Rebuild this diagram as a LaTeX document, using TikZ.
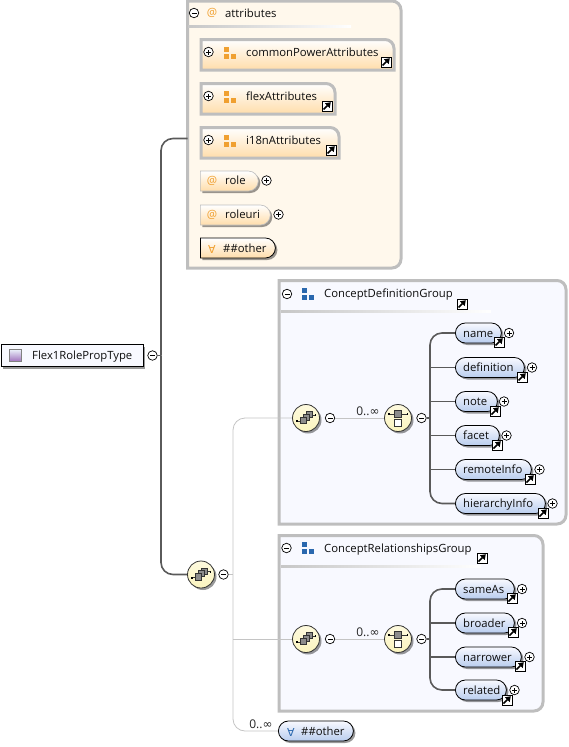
\documentclass[tikz,border=0pt]{standalone}
\usepackage{fontspec}
\setmainfont{Open Sans}
\newfontfamily\symfont{DejaVu Sans}
\usepackage{tikz}
\usetikzlibrary{arrows.meta,positioning,calc,shadows,shapes.misc}
\definecolor{XsdBorder}{HTML}{BEBEBE}
\definecolor{XsdTrunk}{HTML}{5A5A5A}
\definecolor{XsdThin}{HTML}{C4C4C4}
\definecolor{XsdOrange}{HTML}{F0A030}
\definecolor{XsdBlue}{HTML}{2A68AE}
\definecolor{XsdCream}{HTML}{FFF8EC}
\definecolor{XsdPale}{HTML}{F8F9FF}
\definecolor{XsdLightOrange}{HTML}{FFDDAA}
\definecolor{XsdLightBlue}{HTML}{B9CDEE}
\definecolor{XsdYellow}{HTML}{FBF4BE}
\tikzset{
  softshadow/.style={drop shadow={shadow xshift=2pt, shadow yshift=-2pt, opacity=0.4, fill=black}},
  lbl/.style={anchor=west, inner sep=0pt, text height=9pt, text depth=0pt, font=\fontsize{11.3}{13}\selectfont, text=black!95},
  sym/.style={inner sep=0pt, font=\symfont\fontsize{11}{12}\selectfont},
  atsign/.style={inner sep=0pt, text=XsdOrange, font=\fontsize{11.5}{12}\selectfont},
  occurs/.style={inner sep=0pt, font=\fontsize{12}{13}\selectfont, text=black!85},
  minusnode/.style={circle, draw=black, line width=0.7pt, fill=white, minimum size=9.5pt, inner sep=0pt,
    path picture={\draw[line width=0.6pt] ([xshift=-2.5pt]path picture bounding box.center) -- ([xshift=2.5pt]path picture bounding box.center);}},
  plusnode/.style={circle, draw=black, line width=0.7pt, fill=white, minimum size=9.5pt, inner sep=0pt,
    path picture={\draw[line width=0.6pt] ([xshift=-2.5pt]path picture bounding box.center) -- ([xshift=2.5pt]path picture bounding box.center);
      \draw[line width=0.6pt] ([yshift=-2.5pt]path picture bounding box.center) -- ([yshift=2.5pt]path picture bounding box.center);}},
  jumpnode/.style={rectangle, draw=black, line width=1pt, fill=white, minimum size=10pt, inner sep=0pt,
    path picture={\begin{scope}[shift={(path picture bounding box.center)}]
      \draw[line width=1.6pt, -{Triangle[length=5pt,width=6.5pt]}] (-3.5,3.5) -- (3.8,-3.8);
    \end{scope}}},
  groupnode/.style={minimum size=13pt, inner sep=0pt,
    path picture={\begin{scope}[shift={(path picture bounding box.center)}]
      \fill[#1] (-6,-6.5) rectangle (-1,-1.5);
      \fill[#1] (-6,0.5) rectangle (-1,5.5);
      \fill[#1] (1,0.5) rectangle (6,5.5);
    \end{scope}}},
  typemark/.style={rectangle, draw=black!50, top color=XsdLightBlue!30!white, bottom color=violet!45!XsdLightBlue, minimum size=12pt, inner sep=0pt},
  rootbox/.style={rectangle, draw=black, line width=0.9pt, fill=XsdPale, minimum width=142pt, minimum height=22pt, inner sep=0pt, softshadow},
  attrpill/.style={rounded rectangle, rounded rectangle west arc=none, draw=XsdBorder, line width=0.6pt, top color=white, bottom color=XsdLightOrange, minimum height=20pt, inner sep=0pt, anchor=west, softshadow},
  otherpill/.style={rounded rectangle, rounded rectangle west arc=none, draw=black, line width=0.8pt, top color=white, bottom color=XsdLightOrange, minimum height=20pt, inner sep=0pt, anchor=west, softshadow},
  elempill/.style={rounded rectangle, draw=black, line width=0.8pt, top color=XsdPale, bottom color=XsdLightBlue, minimum height=20pt, inner sep=0pt, anchor=west, softshadow},
  choicenode/.style={circle, draw=black!80, line width=0.8pt, top color=XsdYellow!50!white, bottom color=XsdYellow, minimum size=27pt, inner sep=0pt, softshadow,
    path picture={\begin{scope}[shift={(path picture bounding box.center)}]
      \draw[line width=0.8pt] (-9,3) -- (-5,3);
      \draw[line width=0.8pt] (5,-3) -- (9,-3);
      \fill (-10,2) rectangle (-8.5,4);
      \fill (8.5,-4) rectangle (10,-2);
      \draw[fill=black!45, line width=0.5pt] (0.5,-6.5) rectangle (6.5,-0.5);
      \draw[fill=black!45, line width=0.5pt] (-2.5,-4) rectangle (3.5,2);
      \draw[fill=black!45, line width=0.5pt] (-5.5,-1) rectangle (0.5,5.5);
    \end{scope}}},
  seqnode/.style={circle, draw=black!80, line width=0.8pt, top color=XsdYellow!50!white, bottom color=XsdYellow, minimum size=27pt, inner sep=0pt, softshadow,
    path picture={\begin{scope}[shift={(path picture bounding box.center)}]
      \draw[line width=0.8pt] (-9,-4) -- (9,-4);
      \fill (-10,-5) rectangle (-8.5,-3);
      \fill (8.5,-5) rectangle (10,-3);
      \draw[fill=black!45, line width=0.5pt] (-3.5,-7.5) rectangle (3.5,-0.5);
      \draw[fill=white, line width=0.8pt] (-3.5,1.5) rectangle (3.5,8);
    \end{scope}}},
  sepbar/.style={rectangle, left color=black!22, right color=white, minimum height=2pt, inner sep=0pt, anchor=west},
  trunk/.style={draw=XsdTrunk, line width=1.6pt},
  thin/.style={draw=XsdThin, line width=0.8pt},
  groupframe/.style={draw=XsdBorder, line width=3pt},
  refframe/.style={draw=XsdBorder, line width=3pt, top color=white, bottom color=XsdLightOrange}
}
% frame with round corners on the right
\newcommand{\sideframe}[6]{\filldraw[#2] (#3,#4) -- (#3+12,#4) -- (#5-9,#4) to[out=0,in=90] (#5,#4+9) -- (#5,#6-9) to[out=-90,in=0] (#5-9,#6) -- (#3,#6) -- cycle; \coordinate (#1) at (#3,#4/2+#6/2);}
% frame with the top right corner round only
\newcommand{\refframe}[6]{\shadedraw[#2] (#3,#4) -- (#5-9,#4) to[out=0,in=90] (#5,#4+9) -- (#5,#6) -- (#3,#6) -- cycle; \coordinate (#1) at (#3,#4/2+#6/2);}

\begin{document}
\begin{tikzpicture}[x=1pt,y=-1pt]
\useasboundingbox (0,0) rectangle (568,747);

% attributes
\sideframe{attrs}{groupframe, fill=XsdCream}{187.5}{1}{401}{268}
\coordinate (attrsin) at (187.5,138.5);
\node[minusnode] (attrsminus) at (194,13) {};
\node[atsign] (attrsat) at (212,13) {@};
\node[lbl] (attrstxt) at (225,13) {attributes};
\node[sepbar, minimum width=163pt] (attrssep) at (188,26.5) {};
\refframe{power}{refframe}{201}{39.5}{394}{70}
\node[plusnode] (powerplus) at (208.5,52) {};
\node[groupnode=XsdOrange] (powergrp) at (230,53) {};
\node[lbl] (powertxt) at (246,52) {commonPowerAttributes};
\node[jumpnode] (powerjump) at (386,62) {};
\refframe{flex}{refframe}{201}{83.5}{335}{114}
\node[plusnode] (flexplus) at (208.5,96) {};
\node[groupnode=XsdOrange] (flexgrp) at (230,97) {};
\node[lbl] (flextxt) at (246,96) {flexAttributes};
\node[jumpnode] (flexjump) at (327,106) {};
\refframe{intl}{refframe}{201}{127.5}{339}{158}
\node[plusnode] (intlplus) at (208.5,140) {};
\node[groupnode=XsdOrange] (intlgrp) at (230,141) {};
\node[lbl] (intltxt) at (246,140) {i18nAttributes};
\node[jumpnode] (intljump) at (331,150) {};
\node[attrpill, minimum width=58pt] (role) at (200,181) {};
\node[atsign] (roleat) at (212,181) {@};
\node[lbl] (roletxt) at (225,180) {role};
\node[plusnode] (roleplus) at (266.5,180.5) {};
\node[attrpill, minimum width=70pt] (roleuri) at (200,215) {};
\node[atsign] (roleuriat) at (212,215) {@};
\node[lbl] (roleuritxt) at (225,214) {roleuri};
\node[plusnode] (roleuriplus) at (278.5,214.5) {};
\node[otherpill, minimum width=75pt] (attrother) at (200,248) {};
\node[sym, text=XsdOrange] (attrotherall) at (212,249) {∀};
\node[lbl] (attrothertxt) at (223,248) {\#\#other};

% root
\node[rootbox, anchor=west] (root) at (1,355.5) {};
\node[typemark] (rootmark) at (15.5,355.5) {};
\node[lbl] (roottxt) at (32,355) {Flex1RolePropType};
\node[minusnode] (rootminus) at (152.5,355.5) {};
\node[choicenode] (mainchoice) at (201,574.5) {};
\node[minusnode] (mainminus) at (223.5,574.5) {};
\coordinate (rootfork) at (161,355.5);
\draw[trunk] (rootminus)--(rootfork);
\draw[trunk, rounded corners=12pt] (rootfork) |- (attrsin);
\draw[trunk, rounded corners=12pt] (rootfork) |- (mainchoice);

% thin lines behind the two groups
\coordinate (mainfork) at (233,574.5);
\node[occurs] (mainocc) at (261,724) {0..{\symfont ∞}};
\node[rounded rectangle, draw=black, line width=0.8pt, top color=XsdPale, bottom color=XsdLightBlue, minimum height=20pt, minimum width=75pt, inner sep=0pt, anchor=west, softshadow] (mainother) at (278,731) {};
\node[sym, text=XsdBlue] (mainotherall) at (291,732) {∀};
\node[lbl] (mainothertxt) at (301,731) {\#\#other};
\draw[thin] (mainminus)--(mainfork);
\draw[thin, rounded corners=12pt] (mainfork) |- (mainother);

% ConceptDefinitionGroup
\sideframe{defgroup}{groupframe, fill=XsdPale}{279}{280.5}{566}{524}
\node[minusnode] (defminus) at (287,294) {};
\node[groupnode=XsdBlue] (defgrp) at (308,294) {};
\node[lbl] (deftxt) at (324,293) {ConceptDefinitionGroup};
\node[jumpnode] (defjump) at (462,304) {};
\node[sepbar, minimum width=210pt] (defsep) at (281,311) {};
\node[choicenode] (defchoice) at (306,418) {};
\node[minusnode] (defchoiceminus) at (330,418) {};
\node[occurs] (defocc) at (368,411) {0..{\symfont ∞}};
\node[seqnode] (defseq) at (398,418) {};
\node[minusnode] (defseqminus) at (421.5,418) {};
\coordinate (deffork) at (430,418);
\draw[thin, rounded corners=12pt] (mainfork) |- (defchoice);
\draw[thin] (defchoiceminus)--(defseq);
\draw[trunk] (defseqminus)--(deffork);
\node[elempill, minimum width=46pt] (name) at (455,333) {};
\node[lbl] (nametxt) at (463,332.5) {name};
\node[plusnode] (nameplus) at (509,333) {};
\node[jumpnode] (namejump) at (499,342) {};
\node[elempill, minimum width=69pt] (definition) at (455,367.5) {};
\node[lbl] (definitiontxt) at (463,367) {definition};
\node[plusnode] (definitionplus) at (532,367.5) {};
\node[jumpnode] (definitionjump) at (522,377) {};
\node[elempill, minimum width=42pt] (note) at (455,401.5) {};
\node[lbl] (notetxt) at (463,401) {note};
\node[plusnode] (noteplus) at (504,401.5) {};
\node[jumpnode] (notejump) at (495,411) {};
\node[elempill, minimum width=44pt] (facet) at (455,435.5) {};
\node[lbl] (facettxt) at (463,435) {facet};
\node[plusnode] (facetplus) at (506.5,435.5) {};
\node[jumpnode] (facetjump) at (497,445) {};
\node[elempill, minimum width=76pt] (remoteinfo) at (455,469.5) {};
\node[lbl] (remoteinfotxt) at (463,469) {remoteInfo};
\node[plusnode] (remoteinfoplus) at (539.5,469.5) {};
\node[jumpnode] (remoteinfojump) at (530,479) {};
\node[elempill, minimum width=90pt] (hierarchy) at (455,503.5) {};
\node[lbl] (hierarchytxt) at (463,503) {hierarchyInfo};
\node[plusnode] (hierarchyplus) at (552.5,503.5) {};
\node[jumpnode] (hierarchyjump) at (543,513) {};
\draw[trunk, rounded corners=12pt] (deffork) |- (name);
\draw[trunk] (deffork|-definition)--(definition);
\draw[trunk] (deffork|-note)--(note);
\draw[trunk] (deffork|-facet)--(facet);
\draw[trunk] (deffork|-remoteinfo)--(remoteinfo);
\draw[trunk, rounded corners=12pt] (deffork) |- (hierarchy);

% ConceptRelationshipsGroup
\sideframe{relgroup}{groupframe, fill=XsdPale}{279}{535.5}{543}{711}
\node[minusnode] (relminus) at (286.5,548) {};
\node[groupnode=XsdBlue] (relgrp) at (308,548) {};
\node[lbl] (reltxt) at (324,547.5) {ConceptRelationshipsGroup};
\node[jumpnode] (reljump) at (482,558) {};
\node[sepbar, minimum width=200pt] (relsep) at (281,566) {};
\node[choicenode] (relchoice) at (306,639) {};
\node[minusnode] (relchoiceminus) at (330,639) {};
\node[occurs] (relocc) at (368,632) {0..{\symfont ∞}};
\node[seqnode] (relseq) at (398,639) {};
\node[minusnode] (relseqminus) at (421.5,639) {};
\coordinate (relfork) at (430,639);
\draw[thin] (mainfork|-relchoice) -- (relchoice);
\draw[thin] (relchoiceminus)--(relseq);
\draw[trunk] (relseqminus)--(relfork);
\node[elempill, minimum width=59pt] (sameas) at (455,589) {};
\node[lbl] (sameastxt) at (463,588.5) {sameAs};
\node[plusnode] (sameasplus) at (522,589) {};
\node[jumpnode] (sameasjump) at (512,598) {};
\node[elempill, minimum width=59pt] (broader) at (455,623) {};
\node[lbl] (broadertxt) at (463,622.5) {broader};
\node[plusnode] (broaderplus) at (522,623) {};
\node[jumpnode] (broaderjump) at (513,632) {};
\node[elempill, minimum width=66pt] (narrower) at (455,657) {};
\node[lbl] (narrowertxt) at (463,656.5) {narrower};
\node[plusnode] (narrowerplus) at (529.5,657) {};
\node[jumpnode] (narrowerjump) at (520,666) {};
\node[elempill, minimum width=51pt] (related) at (455,690) {};
\node[lbl] (relatedtxt) at (463,690) {related};
\node[plusnode] (relatedplus) at (514.5,690) {};
\node[jumpnode] (relatedjump) at (507,700) {};
\draw[trunk, rounded corners=12pt] (relfork) |- (sameas);
\draw[trunk] (relfork|-broader)--(broader);
\draw[trunk] (relfork|-narrower)--(narrower);
\draw[trunk, rounded corners=12pt] (relfork) |- (related);
\end{tikzpicture}
\end{document}
